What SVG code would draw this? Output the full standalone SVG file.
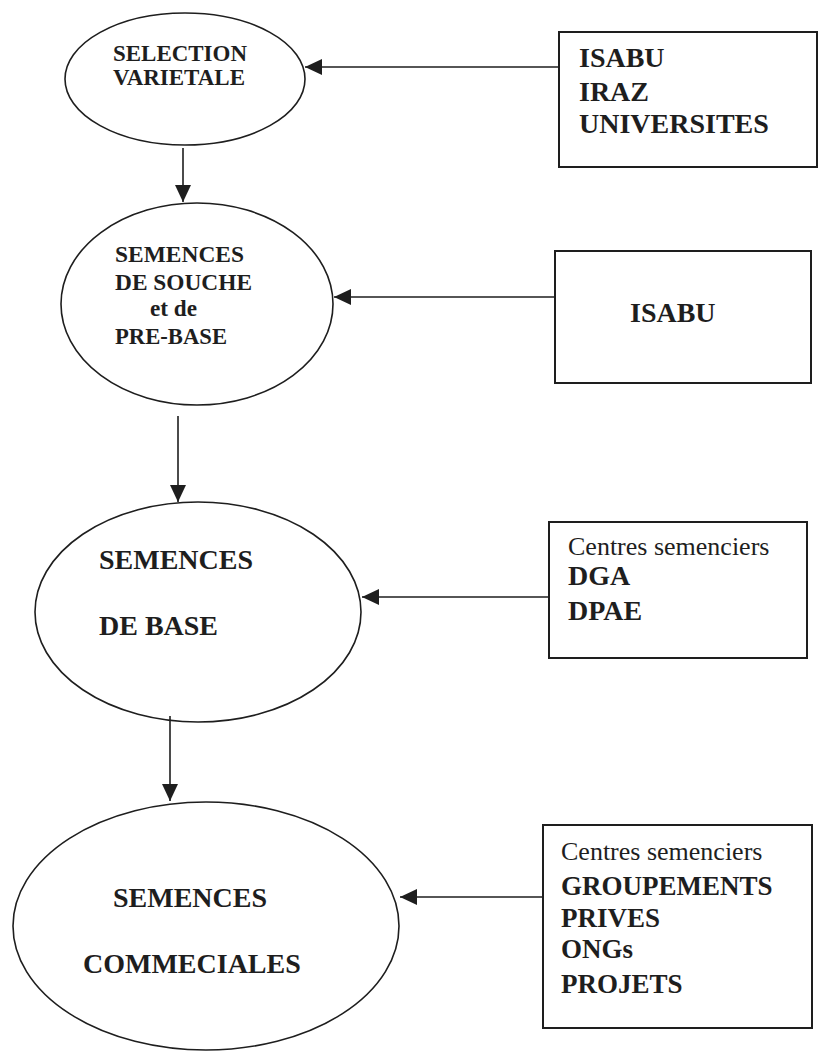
<svg xmlns="http://www.w3.org/2000/svg" width="821" height="1054" viewBox="0 0 821 1054">
<style>
.shape{fill:none;stroke:#1e1e1e;stroke-width:1.6}
.box{fill:none;stroke:#1e1e1e;stroke-width:2}
.conn{stroke:#1e1e1e;stroke-width:1.6;fill:none}
text{font-family:"Liberation Serif","Times New Roman",serif;fill:#1e1e1e}
.b{font-weight:bold}
</style>
<defs>
<marker id="ah" viewBox="0 0 17 16" refX="17" refY="8" markerWidth="17" markerHeight="16" markerUnits="userSpaceOnUse" orient="auto">
<path d="M0,0 L17,8 L0,16 Z" fill="#1e1e1e"/>
</marker>
</defs>
<rect width="821" height="1054" fill="#ffffff"/>

<g id="connectors">
<line class="conn" x1="559" y1="67" x2="305" y2="67" marker-end="url(#ah)"/>
<line class="conn" x1="183" y1="148" x2="183" y2="202" marker-end="url(#ah)"/>
<line class="conn" x1="555" y1="297" x2="334" y2="297" marker-end="url(#ah)"/>
<line class="conn" x1="178" y1="416" x2="178" y2="502" marker-end="url(#ah)"/>
<line class="conn" x1="549" y1="597" x2="362" y2="597" marker-end="url(#ah)"/>
<line class="conn" x1="170" y1="716" x2="170" y2="801" marker-end="url(#ah)"/>
<line class="conn" x1="543" y1="897" x2="400" y2="897" marker-end="url(#ah)"/>
</g>

<g id="node-selection">
<ellipse class="shape" cx="185" cy="79" rx="120" ry="66"/>
<text class="b" x="113" y="61" font-size="24" textLength="134" lengthAdjust="spacingAndGlyphs">SELECTION</text>
<text class="b" x="113" y="85" font-size="24" textLength="132" lengthAdjust="spacingAndGlyphs">VARIETALE</text>
</g>

<g id="node-souche">
<ellipse class="shape" cx="197" cy="304" rx="136" ry="101"/>
<text class="b" x="115" y="262" font-size="24" textLength="129" lengthAdjust="spacingAndGlyphs">SEMENCES</text>
<text class="b" x="115" y="290" font-size="24" textLength="137" lengthAdjust="spacingAndGlyphs">DE SOUCHE</text>
<text class="b" x="150" y="316" font-size="24" textLength="47" lengthAdjust="spacingAndGlyphs">et de</text>
<text class="b" x="115" y="344" font-size="24" textLength="112" lengthAdjust="spacingAndGlyphs">PRE-BASE</text>
</g>

<g id="node-base">
<ellipse class="shape" cx="198" cy="612" rx="163" ry="110"/>
<text class="b" x="99" y="569" font-size="28">SEMENCES</text>
<text class="b" x="99" y="635" font-size="28">DE BASE</text>
</g>

<g id="node-commerciales">
<ellipse class="shape" cx="206" cy="926" rx="193" ry="124"/>
<text class="b" x="113" y="907" font-size="28">SEMENCES</text>
<text class="b" x="83" y="973" font-size="28">COMMECIALES</text>
</g>

<g id="box-isabu-iraz">
<rect class="box" x="559" y="32" width="258" height="135"/>
<text class="b" x="579" y="67" font-size="28">ISABU</text>
<text class="b" x="579" y="101" font-size="28">IRAZ</text>
<text class="b" x="579" y="133" font-size="28">UNIVERSITES</text>
</g>

<g id="box-isabu">
<rect class="box" x="555" y="251" width="256" height="132"/>
<text class="b" x="630" y="322" font-size="28">ISABU</text>
</g>

<g id="box-dga">
<rect class="box" x="549" y="522" width="258" height="136"/>
<text x="568" y="555" font-size="26">Centres semenciers</text>
<text class="b" x="568" y="585" font-size="28">DGA</text>
<text class="b" x="568" y="620" font-size="28">DPAE</text>
</g>

<g id="box-groupements">
<rect class="box" x="543" y="825" width="269" height="203"/>
<text x="561" y="860" font-size="26">Centres semenciers</text>
<text class="b" x="561" y="895" font-size="27">GROUPEMENTS</text>
<text class="b" x="561" y="927" font-size="27">PRIVES</text>
<text class="b" x="561" y="958" font-size="27">ONGs</text>
<text class="b" x="561" y="993" font-size="27">PROJETS</text>
</g>
</svg>
